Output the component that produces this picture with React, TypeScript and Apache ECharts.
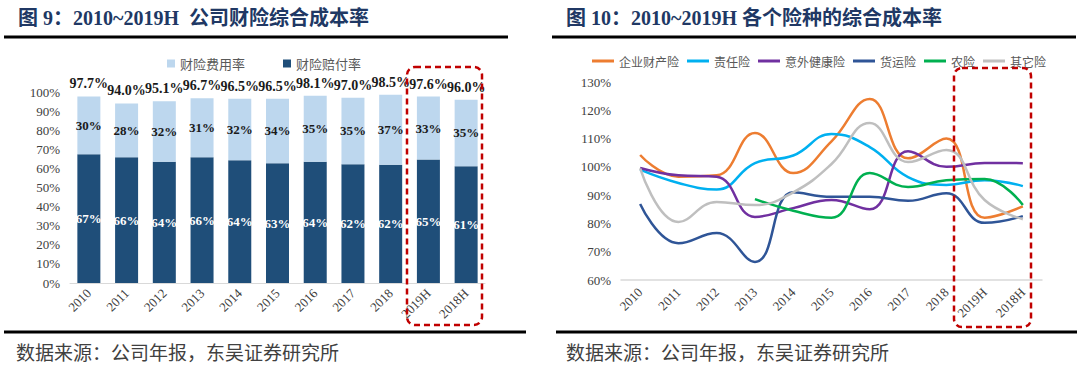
import React, { useEffect, useRef } from "react";
import * as echarts from "echarts";

// ---------- Data ----------
const years = ["2010", "2011", "2012", "2013", "2014", "2015", "2016", "2017", "2018", "2019H", "2018H"];

// Figure 9: property insurance combined ratio (%)
const lossRatio = [67.4, 65.9, 63.5, 65.8, 64.3, 62.7, 63.5, 62.2, 61.9, 64.7, 61.1];
const expenseRatio = [30.3, 28.1, 31.6, 30.9, 32.2, 33.8, 34.6, 34.8, 36.6, 32.9, 34.9];
const combinedRatio = [97.7, 94.0, 95.1, 96.7, 96.5, 96.5, 98.1, 97.0, 98.5, 97.6, 96.0];
const leftTicks = [0, 100, 10]; // min, max, interval

// Figure 10: combined ratio by line (%)
const enterpriseProperty = [104.2, 96.5, 97, 112, 97.8, 109, 124, 103, 110, 82, 86];
const liability = [99, 94.3, 92, 101.3, 104, 111.6, 107, 96.4, 93.6, 95.3, 93.2];
const accidentHealth = [99.6, 97, 96.5, 82.3, 85.4, 88.3, 85, 105.5, 100, 101.4, 101.3];
const cargo = [86.9, 73, 76.6, 66.4, 91, 89.4, 89.4, 88, 90.7, 80.2, 82.6];
const agriculture = [null, null, null, 88.6, 84.5, 82, 97.8, 92.9, 95.3, 95.7, 86.5];
const others = [99.5, 80.5, 87.6, 86.5, 91, 101, 115.5, 101.7, 106, 88.3, 81.5];
const rightTicks = [60, 130, 10];

const leftTitle = "图 9：2010~2019H  公司财险综合成本率";
const rightTitle = "图 10：2010~2019H 各个险种的综合成本率";
const source = "数据来源：公司年报，东吴证券研究所";

const SERIF = "'Liberation Serif', 'Times New Roman', serif";
const CJK = "'Noto Sans CJK SC', sans-serif";
const TITLE_FONT = "'Liberation Serif', 'Noto Sans CJK SC', serif";

export default function App() {
  const ref = useRef<HTMLDivElement>(null);

  useEffect(() => {
    if (!ref.current) return;
    const chart = echarts.init(ref.current, undefined, { renderer: "svg" });

    const lineSeries = (name: string, data: (number | null)[], color: string) => ({
      name,
      type: "line",
      xAxisIndex: 1,
      yAxisIndex: 1,
      data,
      smooth: 0.45,
      symbol: "none",
      lineStyle: { color, width: 2.5 },
      itemStyle: { color },
    });

    const option: any = {
      animation: false,
      backgroundColor: "#ffffff",
      legend: [
        {
          left: 162,
          top: 52,
          data: ["财险费用率", "财险赔付率"],
          icon: "rect",
          itemWidth: 8,
          itemHeight: 8,
          itemGap: 38,
          textStyle: { fontFamily: CJK, fontSize: 13, color: "#595959" },
        },
        {
          left: 587,
          top: 50,
          data: ["企业财产险", "责任险", "意外健康险", "货运险", "农险", "其它险"],
          icon: "rect",
          itemWidth: 22,
          itemHeight: 3,
          itemGap: 8,
          textStyle: { fontFamily: CJK, fontSize: 12, color: "#595959" },
        },
      ],
      grid: [
        { left: 70, top: 92, width: 415, height: 191 },
        { left: 621, top: 82, width: 421, height: 198 },
      ],
      xAxis: [
        {
          gridIndex: 0,
          type: "category",
          data: years,
          axisLine: { lineStyle: { color: "#d9d9d9" } },
          axisTick: { show: false },
          axisLabel: { rotate: 45, fontFamily: SERIF, fontSize: 13, color: "#404040", margin: 8 },
        },
        {
          gridIndex: 1,
          type: "category",
          data: years,
          axisLine: { lineStyle: { color: "#d9d9d9", width: 1.5 } },
          axisTick: { show: false },
          axisLabel: { rotate: 45, fontFamily: SERIF, fontSize: 13, color: "#404040", margin: 10 },
        },
      ],
      yAxis: [
        {
          gridIndex: 0,
          type: "value",
          min: leftTicks[0],
          max: leftTicks[1],
          interval: leftTicks[2],
          splitLine: { show: false },
          axisLine: { show: false },
          axisTick: { show: false },
          axisLabel: { formatter: "{value}%", fontFamily: SERIF, fontSize: 13, color: "#404040", margin: 10 },
        },
        {
          gridIndex: 1,
          type: "value",
          min: rightTicks[0],
          max: rightTicks[1],
          interval: rightTicks[2],
          splitLine: { show: false },
          axisLine: { show: false },
          axisTick: { show: false },
          axisLabel: { formatter: "{value}%", fontFamily: SERIF, fontSize: 13, color: "#404040", margin: 10 },
        },
      ],
      series: [
        {
          name: "财险赔付率",
          type: "bar",
          stack: "cr",
          xAxisIndex: 0,
          yAxisIndex: 0,
          data: lossRatio,
          barWidth: 23,
          itemStyle: { color: "#1f4e79" },
          label: {
            show: true,
            position: "inside",
            formatter: (p: any) => Math.round(p.value) + "%",
            fontFamily: SERIF,
            fontWeight: "bold",
            fontSize: 13,
            color: "#ffffff",
          },
        },
        {
          name: "财险费用率",
          type: "bar",
          stack: "cr",
          xAxisIndex: 0,
          yAxisIndex: 0,
          data: expenseRatio,
          barWidth: 23,
          itemStyle: { color: "#bdd7ee" },
          label: {
            show: true,
            position: "inside",
            formatter: (p: any) => Math.round(p.value) + "%",
            fontFamily: SERIF,
            fontWeight: "bold",
            fontSize: 13,
            color: "#1a1a1a",
          },
        },
        {
          name: "综合成本率",
          type: "line",
          xAxisIndex: 0,
          yAxisIndex: 0,
          data: combinedRatio,
          symbol: "circle",
          symbolSize: 1,
          itemStyle: { color: "rgba(0,0,0,0)" },
          lineStyle: { width: 0, opacity: 0 },
          label: {
            show: true,
            position: "top",
            distance: 5,
            formatter: (p: any) => Number(p.value).toFixed(1) + "%",
            fontFamily: SERIF,
            fontWeight: "bold",
            fontSize: 14,
            color: "#1a1a1a",
          },
          z: 5,
        },
        lineSeries("企业财产险", enterpriseProperty, "#ed7d31"),
        lineSeries("责任险", liability, "#00b0f0"),
        lineSeries("意外健康险", accidentHealth, "#7030a0"),
        lineSeries("货运险", cargo, "#2f5597"),
        lineSeries("农险", agriculture, "#00b050"),
        lineSeries("其它险", others, "#bfbfbf"),
      ],
      graphic: [
        {
          type: "text",
          left: 18,
          top: 8,
          style: { text: leftTitle, font: `bold 20px ${TITLE_FONT}`, fill: "#203864" },
        },
        {
          type: "text",
          left: 566,
          top: 8,
          style: { text: rightTitle, font: `bold 20px ${TITLE_FONT}`, fill: "#203864" },
        },
        { type: "line", shape: { x1: 4, y1: 37, x2: 508, y2: 37 }, style: { stroke: "#000", lineWidth: 3 } },
        { type: "line", shape: { x1: 552, y1: 37, x2: 1076, y2: 37 }, style: { stroke: "#000", lineWidth: 3 } },
        { type: "line", shape: { x1: 4, y1: 332, x2: 526, y2: 332 }, style: { stroke: "#000", lineWidth: 3 } },
        { type: "line", shape: { x1: 556, y1: 332, x2: 1077, y2: 332 }, style: { stroke: "#000", lineWidth: 3 } },
        {
          type: "text",
          left: 16,
          top: 342,
          style: { text: source, font: `19px ${CJK}`, fill: "#404040" },
        },
        {
          type: "text",
          left: 566,
          top: 342,
          style: { text: source, font: `19px ${CJK}`, fill: "#404040" },
        },
        {
          type: "rect",
          shape: { x: 407, y: 67, width: 75, height: 258, r: 8 },
          style: { fill: "none", stroke: "#c00000", lineWidth: 2.5, lineDash: [6, 4] },
          z: 10,
        },
        {
          type: "rect",
          shape: { x: 954, y: 68, width: 77, height: 259, r: 8 },
          style: { fill: "none", stroke: "#c00000", lineWidth: 2.5, lineDash: [6, 4] },
          z: 10,
        },
      ],
    };

    chart.setOption(option);
    return () => chart.dispose();
  }, []);

  return (
    <div
      ref={ref}
      style={{ position: "fixed", left: 0, top: 0, width: 1080, height: 365, background: "#fff" }}
    />
  );
}
